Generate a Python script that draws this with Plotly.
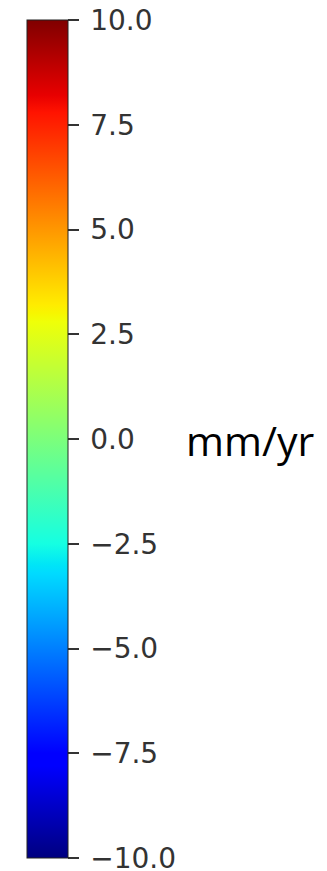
import numpy as np
import plotly.graph_objects as go

# Colour range of the velocity scale (mm/yr)
vmin, vmax = -10.0, 10.0
tick_values = [-10.0, -7.5, -5.0, -2.5, 0.0, 2.5, 5.0, 7.5, 10.0]
tick_labels = ["\u221210.0", "\u22127.5", "\u22125.0", "\u22122.5", "0.0", "2.5", "5.0", "7.5", "10.0"]
unit_label = "mm/yr"

# matplotlib-style "jet" colour map built from its segment breakpoints
red_seg = [(0, 0), (0.35, 0), (0.66, 1), (0.89, 1), (1, 0.5)]
green_seg = [(0, 0), (0.125, 0), (0.375, 1), (0.64, 1), (0.91, 0), (1, 0)]
blue_seg = [(0, 0.5), (0.11, 1), (0.34, 1), (0.65, 0), (1, 0)]


def channel(seg, p):
    xs, ys = zip(*seg)
    return float(np.interp(p, xs, ys))


stops = sorted({p for seg in (red_seg, green_seg, blue_seg) for p, _ in seg})
jet = [
    [p, "rgb({:.0f},{:.0f},{:.0f})".format(
        255 * channel(red_seg, p), 255 * channel(green_seg, p), 255 * channel(blue_seg, p))]
    for p in stops
]

W, H = 327, 871

fig = go.Figure(
    go.Scatter(
        x=[0, 0], y=[0, 0], mode="markers", hoverinfo="skip",
        marker=dict(
            size=0, opacity=0,
            color=[vmin, vmax], cmin=vmin, cmax=vmax, colorscale=jet, showscale=True,
            colorbar=dict(
                xref="container", x=27 / W, xanchor="left",
                yref="container", y=1 - 20 / H, yanchor="top",
                lenmode="pixels", len=838,
                thicknessmode="pixels", thickness=41,
                xpad=0, ypad=0,
                outlinewidth=1, outlinecolor="#222222",
                ticks="outside", ticklen=11, tickwidth=1.5, tickcolor="#333333",
                tickvals=tick_values,
                ticktext=["\u2009" + t for t in tick_labels],
                ticklabeloverflow="allow",
                tickfont=dict(family="DejaVu Sans", size=28, color="#333333"),
            ),
        ),
    )
)

fig.add_annotation(
    text=unit_label, xref="paper", yref="paper",
    x=184 / W, y=1 - 440 / H, xanchor="left", yanchor="middle",
    showarrow=False, font=dict(family="Open Sans", size=41, color="#000000"),
)

fig.update_xaxes(visible=False)
fig.update_yaxes(visible=False)
fig.update_layout(
    width=W, height=H,
    margin=dict(l=0, r=0, t=0, b=0, autoexpand=False),
    paper_bgcolor="white", plot_bgcolor="white", showlegend=False,
)

fig.write_html("out.html")
